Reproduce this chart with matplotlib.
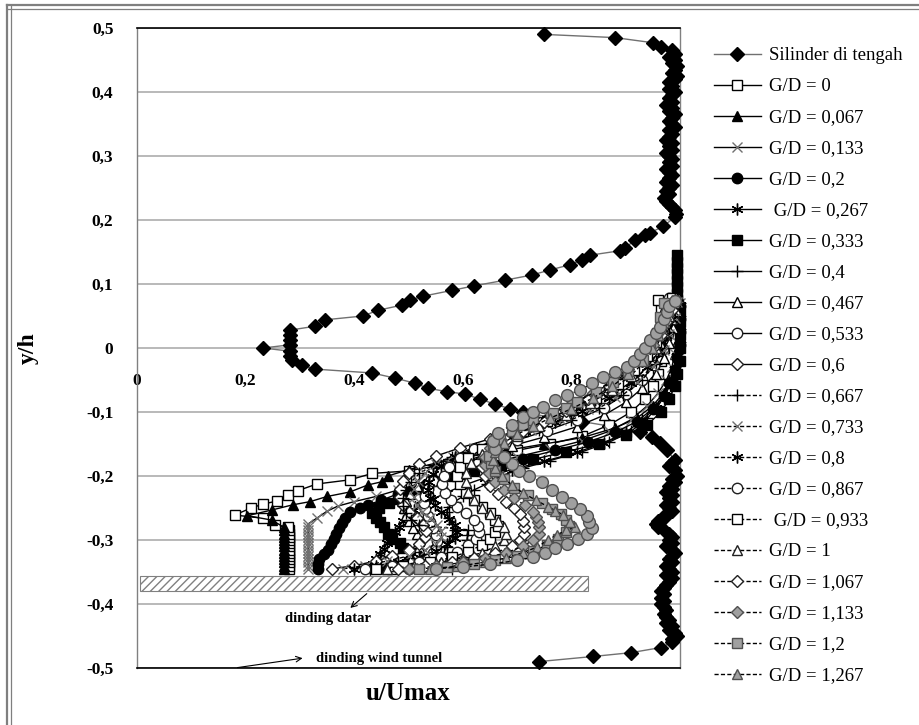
import matplotlib
matplotlib.use("Agg")
import matplotlib.pyplot as plt
from matplotlib.patches import Rectangle
from matplotlib.lines import Line2D

plt.rcParams['font.family'] = ['Liberation Serif', 'DejaVu Serif']
plt.rcParams['hatch.color'] = "#808080"

# --- data (x = u/Umax, y = y/h) ---
silinder = [(0.75, 0.49), (0.88, 0.485), (0.95, 0.477), (0.965, 0.47), (0.985, 0.465), (0.99, 0.46),
            (0.98, 0.455), (0.99, 0.45), (0.985, 0.445), (0.995, 0.44), (0.99, 0.435), (0.985, 0.43),
            (0.995, 0.425), (0.99, 0.42), (0.98, 0.415), (0.985, 0.41), (0.98, 0.405), (0.99, 0.4),
            (0.985, 0.395), (0.98, 0.39), (0.985, 0.385), (0.975, 0.38), (0.985, 0.375), (0.98, 0.37),
            (0.99, 0.365), (0.985, 0.36), (0.98, 0.355), (0.985, 0.35), (0.99, 0.345), (0.98, 0.34),
            (0.985, 0.335), (0.98, 0.33), (0.975, 0.325), (0.985, 0.32), (0.98, 0.315), (0.985, 0.31),
            (0.975, 0.305), (0.98, 0.3), (0.985, 0.295), (0.98, 0.29), (0.985, 0.285), (0.975, 0.28),
            (0.98, 0.275), (0.985, 0.27), (0.98, 0.265), (0.975, 0.26), (0.985, 0.255), (0.98, 0.25),
            (0.975, 0.245), (0.98, 0.24), (0.97, 0.235), (0.975, 0.23), (0.98, 0.225), (0.985, 0.22),
            (0.99, 0.215), (0.993, 0.21), (0.991, 0.205), (0.969, 0.19), (0.945, 0.18), (0.935, 0.176),
            (0.917, 0.169), (0.899, 0.156), (0.89, 0.152), (0.834, 0.145), (0.819, 0.1375), (0.797, 0.13),
            (0.761, 0.122), (0.727, 0.114), (0.678, 0.106), (0.62, 0.097), (0.58, 0.09), (0.527, 0.081),
            (0.503, 0.075), (0.488, 0.067), (0.444, 0.059), (0.416, 0.05), (0.346, 0.044), (0.328, 0.034),
            (0.282, 0.028), (0.282, 0.02), (0.282, 0.012), (0.282, 0.005), (0.232, 0.0), (0.282, -0.005),
            (0.282, -0.012), (0.285, -0.019), (0.304, -0.027), (0.328, -0.033), (0.433, -0.039),
            (0.475, -0.047), (0.512, -0.055), (0.536, -0.063), (0.57, -0.068), (0.604, -0.072),
            (0.632, -0.08), (0.66, -0.088), (0.687, -0.095), (0.71, -0.1), (0.76, -0.108), (0.82, -0.115),
            (0.87, -0.122), (0.926, -0.131), (0.948, -0.139), (0.963, -0.148), (0.976, -0.159),
            (0.99, -0.175), (0.985, -0.18), (0.98, -0.185), (0.99, -0.19), (0.995, -0.2), (0.985, -0.205),
            (0.99, -0.21), (0.98, -0.215), (0.985, -0.22), (0.975, -0.225), (0.985, -0.23), (0.98, -0.235),
            (0.985, -0.24), (0.975, -0.245), (0.98, -0.25), (0.985, -0.255), (0.975, -0.26), (0.97, -0.265),
            (0.96, -0.27), (0.955, -0.275), (0.96, -0.28), (0.97, -0.285), (0.98, -0.29), (0.985, -0.295),
            (0.98, -0.3), (0.985, -0.305), (0.975, -0.31), (0.985, -0.315), (0.99, -0.32), (0.985, -0.325),
            (0.98, -0.33), (0.985, -0.335), (0.975, -0.34), (0.98, -0.345), (0.985, -0.35), (0.975, -0.355),
            (0.985, -0.36), (0.98, -0.365), (0.975, -0.37), (0.97, -0.375), (0.965, -0.38), (0.97, -0.385),
            (0.965, -0.39), (0.97, -0.395), (0.965, -0.4), (0.97, -0.405), (0.975, -0.41), (0.97, -0.415),
            (0.975, -0.42), (0.98, -0.425), (0.975, -0.43), (0.985, -0.435), (0.98, -0.44), (0.99, -0.445),
            (0.995, -0.45), (0.985, -0.455), (0.985, -0.46), (0.965, -0.468), (0.91, -0.476),
            (0.84, -0.482), (0.74, -0.49)]

gd_0 = [(0.28, -0.345), (0.28, -0.34), (0.28, -0.335), (0.28, -0.33), (0.28, -0.325), (0.28, -0.32),
        (0.28, -0.315), (0.28, -0.31), (0.28, -0.305), (0.28, -0.3), (0.28, -0.295), (0.28, -0.29),
        (0.28, -0.285), (0.278, -0.28), (0.254, -0.277), (0.232, -0.266), (0.18, -0.261), (0.21, -0.25),
        (0.232, -0.244), (0.258, -0.239), (0.278, -0.23), (0.296, -0.223), (0.331, -0.2125), (0.392, -0.206),
        (0.433, -0.196), (0.5, -0.192), (0.573, -0.181), (0.595, -0.178), (0.64, -0.172), (0.7, -0.16),
        (0.76, -0.15), (0.82, -0.138), (0.87, -0.12), (0.91, -0.1), (0.935, -0.08), (0.95, -0.06),
        (0.96, -0.04), (0.965, -0.02), (0.97, 0.0), (0.975, 0.02), (0.97, 0.04), (0.965, 0.06), (0.96, 0.075)]
gd_0067 = [(0.27, -0.345), (0.27, -0.34), (0.27, -0.335), (0.27, -0.33), (0.27, -0.325), (0.27, -0.32),
           (0.27, -0.315), (0.27, -0.31), (0.27, -0.305), (0.27, -0.3), (0.27, -0.295), (0.27, -0.29),
           (0.27, -0.285), (0.27, -0.28), (0.249, -0.269), (0.203, -0.262), (0.249, -0.253), (0.287, -0.245),
           (0.319, -0.24), (0.35, -0.232), (0.392, -0.225), (0.425, -0.214), (0.451, -0.209), (0.462, -0.2),
           (0.5, -0.19), (0.55, -0.18), (0.61, -0.17), (0.68, -0.16), (0.75, -0.15), (0.82, -0.14),
           (0.88, -0.125), (0.92, -0.11), (0.95, -0.09), (0.97, -0.07), (0.98, -0.05), (0.99, -0.03),
           (0.99, -0.01), (0.995, 0.01), (1.0, 0.03), (1.0, 0.05), (1.0, 0.07)]
gd_0133 = [(0.315, -0.345), (0.315, -0.34), (0.315, -0.335), (0.315, -0.33), (0.315, -0.325), (0.315, -0.32),
           (0.315, -0.315), (0.315, -0.31), (0.315, -0.305), (0.315, -0.3), (0.315, -0.295), (0.315, -0.29),
           (0.315, -0.285), (0.315, -0.28), (0.315, -0.275), (0.331, -0.266), (0.35, -0.255), (0.37, -0.247),
           (0.4, -0.24), (0.44, -0.232), (0.48, -0.222), (0.52, -0.212), (0.56, -0.202), (0.6, -0.192),
           (0.64, -0.182), (0.7, -0.17), (0.76, -0.158), (0.82, -0.145), (0.87, -0.13), (0.91, -0.112),
           (0.94, -0.09), (0.96, -0.07), (0.975, -0.05), (0.985, -0.03), (0.99, -0.01), (0.995, 0.01),
           (1.0, 0.03), (1.0, 0.05), (1.0, 0.07)]
gd_02 = [(0.333, -0.345), (0.333, -0.338), (0.336, -0.33), (0.345, -0.322), (0.352, -0.315), (0.358, -0.307),
         (0.363, -0.298), (0.367, -0.29), (0.372, -0.281), (0.378, -0.273), (0.383, -0.265), (0.393, -0.257),
         (0.41, -0.25), (0.425, -0.245), (0.45, -0.238), (0.48, -0.228), (0.52, -0.218), (0.56, -0.207),
         (0.6, -0.196), (0.65, -0.185), (0.71, -0.173), (0.77, -0.16), (0.83, -0.147), (0.88, -0.132),
         (0.92, -0.115), (0.95, -0.095), (0.97, -0.075), (0.98, -0.055), (0.99, -0.035), (0.995, -0.015),
         (1.0, 0.005), (1.0, 0.025), (1.0, 0.045), (1.0, 0.065)]
gd_0267 = [(0.43, -0.345), (0.435, -0.338), (0.44, -0.33), (0.447, -0.322), (0.455, -0.314), (0.46, -0.305),
           (0.468, -0.296), (0.475, -0.288), (0.483, -0.279), (0.49, -0.27), (0.5, -0.262), (0.51, -0.253),
           (0.525, -0.245), (0.545, -0.236), (0.57, -0.226), (0.6, -0.215), (0.64, -0.203), (0.69, -0.19),
           (0.75, -0.177), (0.81, -0.163), (0.86, -0.148), (0.9, -0.132), (0.93, -0.113), (0.955, -0.093),
           (0.97, -0.073), (0.98, -0.053), (0.99, -0.033), (0.995, -0.013), (1.0, 0.007), (1.0, 0.027),
           (1.0, 0.047), (1.0, 0.067)]
gd_0333 = [(0.46, -0.345), (0.47, -0.34), (0.5, -0.335), (0.52, -0.328), (0.51, -0.32), (0.49, -0.313),
           (0.484, -0.305), (0.47, -0.298), (0.462, -0.29), (0.455, -0.28), (0.448, -0.272), (0.44, -0.265),
           (0.433, -0.258), (0.445, -0.25), (0.465, -0.242), (0.48, -0.236), (0.49, -0.23), (0.5, -0.225),
           (0.52, -0.22), (0.535, -0.214), (0.55, -0.208), (0.58, -0.2), (0.62, -0.192), (0.67, -0.183),
           (0.73, -0.174), (0.79, -0.162), (0.85, -0.15), (0.9, -0.136), (0.94, -0.12), (0.965, -0.1),
           (0.98, -0.08), (0.99, -0.06), (0.995, -0.04), (1.0, -0.02), (1.0, 0.0), (1.0, 0.02), (1.0, 0.04),
           (1.0, 0.06), (0.995, 0.075), (0.995, 0.085), (0.995, 0.095), (0.995, 0.105), (0.995, 0.115),
           (0.995, 0.125), (0.995, 0.135), (0.995, 0.145)]
gd_04 = [(0.55, -0.345), (0.555, -0.337), (0.56, -0.329), (0.565, -0.32), (0.57, -0.311), (0.575, -0.302),
         (0.58, -0.293), (0.585, -0.284), (0.58, -0.275), (0.575, -0.266), (0.57, -0.257), (0.575, -0.248),
         (0.585, -0.24), (0.6, -0.232), (0.62, -0.222), (0.645, -0.212), (0.67, -0.2), (0.71, -0.188),
         (0.76, -0.176), (0.82, -0.162), (0.87, -0.147), (0.91, -0.13), (0.94, -0.11), (0.96, -0.09),
         (0.975, -0.07), (0.985, -0.05), (0.99, -0.03), (0.995, -0.01), (1.0, 0.01), (1.0, 0.03),
         (1.0, 0.05), (1.0, 0.07)]
gd_0467 = [(0.47, -0.345), (0.49, -0.338), (0.505, -0.33), (0.515, -0.321), (0.52, -0.311), (0.52, -0.301),
           (0.515, -0.291), (0.508, -0.281), (0.5, -0.271), (0.495, -0.261), (0.492, -0.25), (0.495, -0.239),
           (0.502, -0.228), (0.515, -0.216), (0.535, -0.204), (0.56, -0.192), (0.595, -0.18), (0.64, -0.167),
           (0.69, -0.153), (0.75, -0.139), (0.81, -0.123), (0.86, -0.105), (0.9, -0.085), (0.93, -0.063),
           (0.955, -0.04), (0.97, -0.016), (0.98, 0.008), (0.988, 0.032), (0.994, 0.056), (0.998, 0.078)]
gd_0533 = [(0.5, -0.345), (0.52, -0.338), (0.535, -0.33), (0.545, -0.321), (0.55, -0.312), (0.552, -0.302),
           (0.55, -0.292), (0.545, -0.282), (0.54, -0.272), (0.535, -0.262), (0.53, -0.252), (0.528, -0.242),
           (0.53, -0.231), (0.535, -0.22), (0.545, -0.208), (0.56, -0.196), (0.58, -0.184), (0.61, -0.171),
           (0.65, -0.158), (0.7, -0.144), (0.755, -0.129), (0.81, -0.112), (0.86, -0.093), (0.9, -0.072),
           (0.93, -0.05), (0.952, -0.026), (0.968, -0.002), (0.978, 0.022), (0.987, 0.046), (0.993, 0.07)]
gd_06 = [(0.36, -0.345), (0.4, -0.34), (0.44, -0.333), (0.47, -0.325), (0.5, -0.316), (0.52, -0.306),
         (0.53, -0.296), (0.532, -0.286), (0.527, -0.276), (0.515, -0.266), (0.5, -0.256), (0.49, -0.245),
         (0.485, -0.233), (0.485, -0.221), (0.49, -0.208), (0.5, -0.195), (0.52, -0.182), (0.55, -0.169),
         (0.595, -0.156), (0.65, -0.142), (0.71, -0.127), (0.77, -0.111), (0.825, -0.093), (0.875, -0.073),
         (0.915, -0.05), (0.945, -0.025), (0.965, 0.0), (0.978, 0.025), (0.988, 0.05), (0.995, 0.075)]
gd_0667 = [(0.58, -0.345), (0.6, -0.34), (0.61, -0.333), (0.612, -0.325), (0.61, -0.317), (0.608, -0.308),
           (0.608, -0.3), (0.608, -0.292), (0.61, -0.284), (0.52, -0.277), (0.505, -0.268), (0.495, -0.258),
           (0.49, -0.247), (0.49, -0.235), (0.495, -0.222), (0.505, -0.209), (0.52, -0.196), (0.545, -0.183),
           (0.58, -0.17), (0.625, -0.157), (0.68, -0.143), (0.74, -0.128), (0.8, -0.112), (0.85, -0.094),
           (0.895, -0.073), (0.93, -0.05), (0.955, -0.025), (0.97, 0.0), (0.98, 0.025), (0.99, 0.05),
           (0.995, 0.075)]
gd_0733 = [(0.38, -0.345), (0.42, -0.34), (0.46, -0.333), (0.5, -0.325), (0.53, -0.316), (0.55, -0.306),
           (0.56, -0.296), (0.56, -0.286), (0.552, -0.276), (0.54, -0.266), (0.525, -0.256), (0.515, -0.245),
           (0.51, -0.233), (0.51, -0.221), (0.517, -0.208), (0.53, -0.195), (0.55, -0.182), (0.58, -0.169),
           (0.62, -0.156), (0.67, -0.142), (0.725, -0.128), (0.78, -0.113), (0.83, -0.096), (0.88, -0.076),
           (0.92, -0.053), (0.95, -0.028), (0.97, -0.003), (0.98, 0.022), (0.99, 0.047), (0.995, 0.072)]
gd_08 = [(0.4, -0.345), (0.44, -0.34), (0.48, -0.334), (0.52, -0.326), (0.55, -0.317), (0.57, -0.307),
         (0.585, -0.297), (0.59, -0.287), (0.585, -0.277), (0.575, -0.267), (0.56, -0.257), (0.548, -0.246),
         (0.54, -0.234), (0.535, -0.222), (0.537, -0.21), (0.545, -0.197), (0.56, -0.184), (0.585, -0.171),
         (0.62, -0.158), (0.665, -0.144), (0.715, -0.13), (0.77, -0.115), (0.82, -0.098), (0.87, -0.078),
         (0.91, -0.055), (0.94, -0.03), (0.96, -0.005), (0.975, 0.02), (0.985, 0.045), (0.99, 0.07)]
gd_0867 = [(0.42, -0.345), (0.47, -0.341), (0.52, -0.335), (0.56, -0.327), (0.59, -0.318), (0.61, -0.308),
           (0.625, -0.298), (0.63, -0.288), (0.628, -0.278), (0.62, -0.268), (0.605, -0.258), (0.59, -0.248),
           (0.578, -0.238), (0.568, -0.226), (0.562, -0.213), (0.565, -0.2), (0.575, -0.186), (0.595, -0.172),
           (0.62, -0.158), (0.655, -0.144), (0.695, -0.13), (0.74, -0.115), (0.785, -0.099), (0.83, -0.082),
           (0.87, -0.062), (0.905, -0.04), (0.93, -0.018), (0.95, 0.005), (0.962, 0.03), (0.972, 0.055),
           (0.98, 0.078)]
gd_0933 = [(0.44, -0.345), (0.49, -0.341), (0.54, -0.335), (0.58, -0.327), (0.61, -0.318), (0.635, -0.308),
           (0.65, -0.298), (0.66, -0.288), (0.665, -0.278), (0.66, -0.268), (0.65, -0.258), (0.635, -0.248),
           (0.62, -0.238), (0.605, -0.226), (0.595, -0.213), (0.59, -0.2), (0.595, -0.186), (0.61, -0.172),
           (0.635, -0.158), (0.67, -0.144), (0.71, -0.13), (0.755, -0.114), (0.8, -0.097), (0.845, -0.078),
           (0.885, -0.057), (0.915, -0.035), (0.94, -0.012), (0.955, 0.01), (0.965, 0.035), (0.975, 0.06),
           (0.985, 0.078)]
gd_1 = [(0.46, -0.345), (0.51, -0.341), (0.56, -0.335), (0.6, -0.328), (0.635, -0.32), (0.66, -0.31),
        (0.675, -0.3), (0.68, -0.29), (0.675, -0.28), (0.665, -0.27), (0.65, -0.26), (0.635, -0.25),
        (0.62, -0.238), (0.61, -0.225), (0.605, -0.21), (0.605, -0.195), (0.615, -0.18), (0.635, -0.166),
        (0.66, -0.152), (0.7, -0.138), (0.74, -0.122), (0.79, -0.105), (0.835, -0.086), (0.875, -0.065),
        (0.91, -0.043), (0.935, -0.02), (0.955, 0.0), (0.97, 0.025), (0.98, 0.05), (0.99, 0.075)]
gd_1067 = [(0.48, -0.345), (0.53, -0.341), (0.58, -0.335), (0.62, -0.328), (0.66, -0.32), (0.69, -0.31),
           (0.705, -0.3), (0.712, -0.29), (0.712, -0.28), (0.71, -0.27), (0.705, -0.26), (0.695, -0.25),
           (0.68, -0.24), (0.665, -0.228), (0.65, -0.215), (0.64, -0.2), (0.635, -0.186), (0.64, -0.172),
           (0.655, -0.158), (0.68, -0.144), (0.71, -0.13), (0.75, -0.115), (0.79, -0.098), (0.83, -0.08),
           (0.87, -0.06), (0.9, -0.04), (0.93, -0.02), (0.95, 0.0), (0.965, 0.02), (0.975, 0.04),
           (0.985, 0.06), (0.99, 0.075)]
gd_1133 = [(0.5, -0.345), (0.55, -0.341), (0.6, -0.335), (0.64, -0.328), (0.68, -0.32), (0.71, -0.31),
           (0.73, -0.3), (0.74, -0.29), (0.74, -0.28), (0.738, -0.272), (0.735, -0.264), (0.73, -0.256),
           (0.715, -0.246), (0.695, -0.235), (0.675, -0.222), (0.66, -0.21), (0.648, -0.196), (0.64, -0.183),
           (0.64, -0.17), (0.65, -0.157), (0.67, -0.144), (0.695, -0.131), (0.725, -0.118), (0.76, -0.104),
           (0.8, -0.088), (0.84, -0.07), (0.875, -0.052), (0.905, -0.033), (0.93, -0.014), (0.95, 0.005),
           (0.962, 0.025), (0.972, 0.045), (0.98, 0.065)]
gd_12 = [(0.52, -0.345), (0.57, -0.342), (0.62, -0.337), (0.66, -0.332), (0.7, -0.325), (0.73, -0.317),
         (0.755, -0.308), (0.775, -0.298), (0.79, -0.288), (0.795, -0.278), (0.79, -0.268), (0.78, -0.26),
         (0.765, -0.252), (0.745, -0.242), (0.72, -0.23), (0.695, -0.218), (0.675, -0.205), (0.66, -0.192),
         (0.652, -0.18), (0.648, -0.168), (0.655, -0.155), (0.668, -0.142), (0.69, -0.13), (0.71, -0.12),
         (0.729, -0.113), (0.766, -0.102), (0.79, -0.093), (0.81, -0.084), (0.845, -0.068), (0.877, -0.053),
         (0.905, -0.036), (0.932, -0.019), (0.945, 0.0), (0.957, 0.023), (0.963, 0.048), (0.97, 0.07)]
gd_1267 = [(0.54, -0.345), (0.59, -0.341), (0.64, -0.335), (0.68, -0.328), (0.71, -0.32), (0.737, -0.311),
           (0.757, -0.3), (0.773, -0.292), (0.79, -0.285), (0.807, -0.28), (0.797, -0.272), (0.785, -0.261),
           (0.77, -0.254), (0.757, -0.248), (0.735, -0.238), (0.71, -0.226), (0.69, -0.214), (0.672, -0.2),
           (0.66, -0.188), (0.655, -0.175), (0.66, -0.162), (0.675, -0.148), (0.7, -0.135), (0.73, -0.122),
           (0.76, -0.11), (0.8, -0.095), (0.84, -0.078), (0.875, -0.06), (0.905, -0.04), (0.93, -0.02),
           (0.948, 0.0), (0.96, 0.02), (0.97, 0.04), (0.978, 0.06), (0.985, 0.075)]
# series with grey circles whose legend entry is cut off in the source
gd_extra = [(0.55, -0.345), (0.6, -0.342), (0.65, -0.338), (0.7, -0.332), (0.729, -0.327), (0.751, -0.32),
            (0.77, -0.313), (0.792, -0.306), (0.812, -0.298), (0.828, -0.29), (0.838, -0.281), (0.833, -0.272),
            (0.829, -0.262), (0.816, -0.251), (0.8, -0.242), (0.782, -0.233), (0.765, -0.222), (0.745, -0.21),
            (0.722, -0.2), (0.703, -0.192), (0.69, -0.182), (0.675, -0.17), (0.66, -0.158), (0.655, -0.145),
            (0.665, -0.133), (0.69, -0.12), (0.711, -0.108), (0.73, -0.1), (0.748, -0.092), (0.77, -0.082),
            (0.792, -0.073), (0.816, -0.066), (0.838, -0.055), (0.858, -0.045), (0.88, -0.038), (0.902, -0.03),
            (0.916, -0.02), (0.926, -0.01), (0.936, 0.0), (0.945, 0.012), (0.955, 0.023), (0.963, 0.033),
            (0.97, 0.045), (0.976, 0.056), (0.98, 0.066), (0.99, 0.074)]

labels = ["Silinder di tengah", "G/D = 0", "G/D = 0,067", "G/D = 0,133", "G/D = 0,2", " G/D = 0,267",
          "G/D = 0,333", "G/D = 0,4", "G/D = 0,467", "G/D = 0,533", "G/D = 0,6", "G/D = 0,667",
          "G/D = 0,733", "G/D = 0,8", "G/D = 0,867", " G/D = 0,933", "G/D = 1", "G/D = 1,067",
          "G/D = 1,133", "G/D = 1,2", "G/D = 1,267"]
series = [silinder, gd_0, gd_0067, gd_0133, gd_02, gd_0267, gd_0333, gd_04, gd_0467, gd_0533, gd_06,
          gd_0667, gd_0733, gd_08, gd_0867, gd_0933, gd_1, gd_1067, gd_1133, gd_12, gd_1267]

yticks = [-0.5, -0.4, -0.3, -0.2, -0.1, 0.0, 0.1, 0.2, 0.3, 0.4, 0.5]
ytick_labels = ["-0,5", "-0,4", "-0,3", "-0,2", "-0,1", "0", "0,1", "0,2", "0,3", "0,4", "0,5"]
xticks = [0.0, 0.2, 0.4, 0.6, 0.8]
xtick_labels = ["0", "0,2", "0,4", "0,6", "0,8"]

# --- styles: marker, face colour, edge colour, line style, size ---
GREY = "#a0a0a0"
ASTER = (6, 2, 0)
DASH = (0, (3, 1.6))
styles = [
    ("D", "black", "black", "-", 7.5),
    ("s", "white", "black", "-", 7),
    ("^", "black", "black", "-", 7.5),
    ("x", "none", "#707070", "-", 7.5),
    ("o", "black", "black", "-", 7.5),
    (ASTER, "none", "black", "-", 8.5),
    ("s", "black", "black", "-", 7),
    ("+", "none", "black", "-", 8.5),
    ("^", "white", "black", "-", 7.5),
    ("o", "white", "#202020", "-", 7.5),
    ("D", "white", "#202020", "-", 6),
    ("+", "none", "black", DASH, 8.5),
    ("x", "none", "#707070", DASH, 7.5),
    (ASTER, "none", "black", DASH, 8.5),
    ("o", "white", "#202020", DASH, 7.5),
    ("s", "white", "black", DASH, 7),
    ("^", "white", "#202020", DASH, 7.5),
    ("D", "white", "#202020", DASH, 6),
    ("D", GREY, "#505050", DASH, 6.5),
    ("s", GREY, "#505050", DASH, 7),
    ("^", GREY, "#505050", DASH, 7.5),
]

fig = plt.figure(figsize=(9.19, 7.25), dpi=100)
ax = fig.add_axes([137 / 919, 1 - 668 / 725, 543 / 919, 640 / 725])

for data, label, (mk, fc, ec, ls, ms) in zip(series, labels, styles):
    xs = [p[0] for p in data]
    ys = [p[1] for p in data]
    lcol = "#707070" if label.startswith("Silinder") else "black"
    ax.plot(xs, ys, color=lcol, linestyle=ls, linewidth=1.0, marker=mk, markersize=ms,
            markerfacecolor=fc, markeredgecolor=ec, markeredgewidth=1.0, label=label,
            clip_on=False, zorder=3)

ax.plot([p[0] for p in gd_extra], [p[1] for p in gd_extra], color="black", linestyle=DASH,
        linewidth=1.0, marker="o", markersize=8.5, markerfacecolor=GREY, markeredgecolor="#505050",
        markeredgewidth=1.0, clip_on=False, zorder=3)

# flat wall (hatched plate)
ax.add_patch(Rectangle((0.005, -0.38), 0.825, 0.023, facecolor="white", edgecolor="#808080",
                       hatch="////", linewidth=0.8, zorder=2))

ax.set_xlim(0, 1)
ax.set_ylim(-0.5, 0.5)
ax.set_yticks(yticks)
ax.set_yticklabels(ytick_labels, fontsize=12.5, fontweight="bold")
ax.set_xticks([])
ax.tick_params(axis="y", length=0, pad=17)
ax.grid(axis="y", color="#a6a6a6", linewidth=1.1, zorder=0)
ax.set_axisbelow(True)
for side in ("top", "bottom"):
    ax.spines[side].set_color("black")
    ax.spines[side].set_linewidth(1.2)
for side in ("left", "right"):
    ax.spines[side].set_color("#808080")
    ax.spines[side].set_linewidth(1.0)

for xv, lab in zip(xticks, xtick_labels):
    ax.text(xv, -0.052, lab, ha="center", va="center", fontsize=12.5, fontweight="bold", zorder=1)

ax.set_ylabel("y/h", fontsize=17, fontweight="bold", labelpad=34)
ax.set_xlabel("u/Umax", fontsize=18, fontweight="bold", labelpad=10)

ax.annotate("", xy=(0.389, -0.409), xytext=(0.427, -0.381),
            arrowprops=dict(arrowstyle="->", color="black", linewidth=0.8))
ax.text(0.352, -0.422, "dinding datar", ha="center", va="center", fontsize=10.5, fontweight="bold")
ax.annotate("", xy=(0.31, -0.484), xytext=(0.18, -0.5),
            arrowprops=dict(arrowstyle="->", color="black", linewidth=0.8), annotation_clip=False)
ax.text(0.33, -0.485, "dinding wind tunnel", ha="left", va="center", fontsize=10.5, fontweight="bold")

handles, labs = ax.get_legend_handles_labels()
fig.legend(handles, labs, loc="upper left", bbox_to_anchor=(714 / 919, 1 - 47 / 725),
           frameon=False, fontsize=13.5, handlelength=2.5, handletextpad=0.45,
           labelspacing=0.74, borderpad=0, borderaxespad=0)

# double frame around the picture
for xf, lw in ((7 / 919, 1.6), (11 / 919, 0.9)):
    fig.add_artist(Line2D([xf, xf], [0, 1 - 5 / 725], color="#7f7f7f", linewidth=lw))
for yf, lw in ((1 - 5 / 725, 1.6), (1 - 9 / 725, 0.9)):
    fig.add_artist(Line2D([7 / 919, 1], [yf, yf], color="#7f7f7f", linewidth=lw))

fig.savefig("out.png", dpi=100)
